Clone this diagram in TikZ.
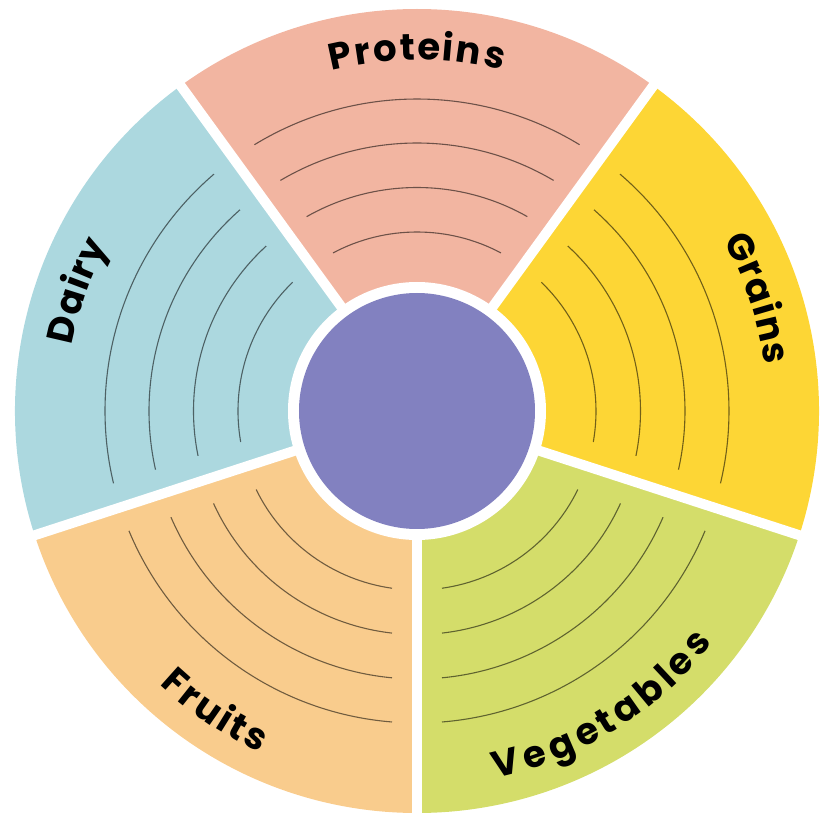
\documentclass[tikz,border=0pt]{standalone}
\usepackage{fontspec}
\newfontfamily\labfont{Poppins}
\usetikzlibrary{decorations.text}
\definecolor{cprot}{HTML}{F2B5A1}
\definecolor{cgrain}{HTML}{FDD635}
\definecolor{cveg}{HTML}{D4DD6A}
\definecolor{cfruit}{HTML}{F9CC8D}
\definecolor{cdairy}{HTML}{ACD8DF}
\definecolor{chub}{HTML}{8281C0}
\tikzset{
  gapline/.style={draw=white, line width=10pt},
  guidearc/.style={draw=black, draw opacity=0.55, line width=1.1pt},
  labeltext/.style={decorate, decoration={text effects along path, text={#1},
    text effects/.cd, text along path, fit text to path,
    characters={font=\labfont\bfseries\fontsize{37}{42}\selectfont, text=black, anchor=base}}}
}
\begin{document}
\begin{tikzpicture}
\useasboundingbox (-417pt,-405pt) rectangle (408pt,411pt);
% sectors
\foreach \a/\c in {-18/cgrain, 54/cprot, 126/cdairy, 198/cfruit, 270/cveg} {
  \fill[\c] (0,0) -- (\a:402pt) arc[start angle=\a, end angle=\a+72, radius=402pt] -- cycle;
}
% guide arcs
\foreach \a in {-18,54,126,198,270} {
  \foreach \r in {179,223.5,268,312} {
    \pgfmathsetmacro\d{asin(25/\r)}
    \draw[guidearc] ({\a+\d}:\r pt) arc[start angle={\a+\d}, end angle={\a+72-\d}, radius=\r pt];
  }
}
% gaps
\foreach \a in {-18,54,126,198,270} {
  \draw[gapline] (0,0) -- (\a:420pt);
}
\fill[white] (0,0) circle (129pt);
\node[circle, fill=chub, minimum size=236pt, inner sep=0pt] (hub) at (0,0) {};
% labels
\path[labeltext=Proteins] (104.05:351pt) arc[start angle=104.05, end angle=75.95, radius=351pt];
\path[labeltext=Grains] (29.1:351pt) arc[start angle=29.1, end angle=7.5, radius=351pt];
\path[labeltext=Dairy] (169.2:351pt) arc[start angle=169.2, end angle=151.8, radius=351pt];
\path[labeltext=Fruits] (226.7:376pt) arc[start angle=226.7, end angle=245.3, radius=376pt];
\path[labeltext=Vegetables] (-77.9:376pt) arc[start angle=-77.9, end angle=-38.1, radius=376pt];
\end{tikzpicture}
\end{document}
